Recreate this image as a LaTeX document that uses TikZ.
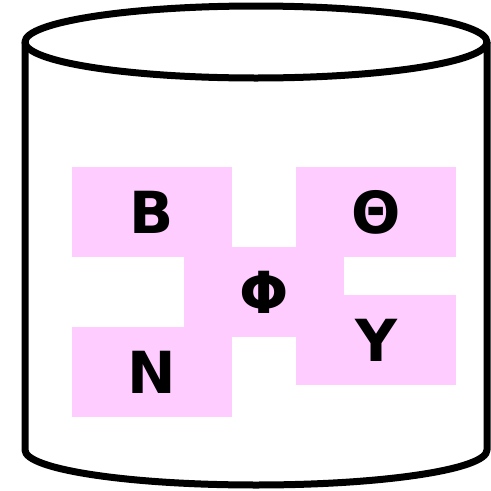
\documentclass[tikz,border=0pt]{standalone}
\usepackage{fontspec}
\setmainfont{DejaVu Sans}
\usepackage{tikz}
\newdimen\pixsize
\setlength{\pixsize}{1pt}
\definecolor{lilac}{HTML}{FFCCFF}

\begin{document}
\begin{tikzpicture}[x=\pixsize,y=-\pixsize]
\tikzset{rim/.style={line width=7pt, line join=round}}%
\tikzset{tile/.style={fill=lilac, minimum width=160pt, minimum height=90pt, inner sep=0pt,
  font=\fontsize{58}{58}\selectfont\bfseries}}%
\useasboundingbox (0,0) rectangle (491,491);
% the drum
\draw[rim] (256,42) ellipse (231 and 36);
\draw[rim] (25,42) -- (25,450) arc (180:0:231 and 35) -- (487,42);
% the tiles
\node[tile] (phi) at (264,292) {Φ};
\node[tile] (beta) at (152,212) {Β};
\node[tile] (theta) at (376,212) {Θ};
\node[tile] (ups) at (376,340) {Υ};
\node[tile] (nu) at (152,372) {Ν};
\end{tikzpicture}
\end{document}
